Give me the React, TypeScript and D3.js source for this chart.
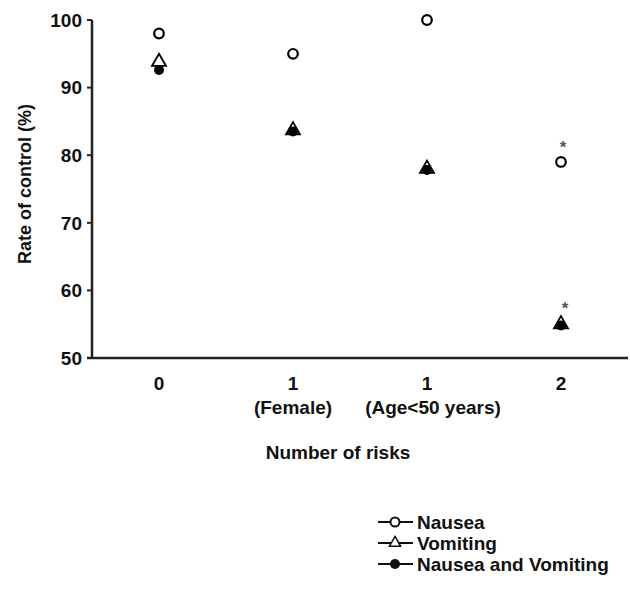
import React from "react";
import * as d3 from "d3";

const categories = ["0", "1", "1", "2"];
const subLabels = ["", "(Female)", "(Age<50 years)", ""];
const nausea = [98, 95, 100, 79];
const vomiting = [93.8, 83.7, 78, 55];
const nauseaVomiting = [92.6, 83.5, 77.8, 54.8];
const significant = [false, false, false, true];
const yTicks = [50, 60, 70, 80, 90, 100];
const legendLabels = ["Nausea", "Vomiting", "Nausea and Vomiting"];

const W = 630;
const H = 594;
const font = "'Liberation Sans', Arial, sans-serif";

export default function App() {
  const x = d3
    .scaleBand<number>()
    .domain(d3.range(categories.length))
    .range([92, 628]);
  const cx = (i: number) => (x(i) as number) + x.bandwidth() / 2;
  const y = d3.scaleLinear().domain([50, 100]).range([358, 20]);
  const x0 = 92;
  const x1 = 628;
  const tri = d3.symbol().type(d3.symbolTriangle).size(85);
  const triSmall = d3.symbol().type(d3.symbolTriangle).size(55);

  return (
    <svg width={W} height={H} style={{ position: "absolute", left: 0, top: 0 }}>
      <rect width={W} height={H} fill="#fff" />
      {/* axes */}
      <line x1={x0} x2={x0} y1={y(100)} y2={y(50)} stroke="#222" strokeWidth={2.5} />
      <line x1={x0 - 5} x2={x1} y1={y(50)} y2={y(50)} stroke="#222" strokeWidth={2.5} />
      {yTicks.map((t) => (
        <g key={t}>
          <line x1={x0 - 5} x2={x0} y1={y(t)} y2={y(t)} stroke="#222" strokeWidth={2} />
          <text x={x0 - 10} y={y(t)} dy="0.36em" textAnchor="end" fontFamily={font} fontWeight="bold" fontSize={19} fill="#111">
            {t}
          </text>
        </g>
      ))}
      <text transform={`translate(25,184) rotate(-90)`} textAnchor="middle" fontFamily={font} fontWeight="bold" fontSize={18} fill="#111" dy="0.36em">
        Rate of control (%)
      </text>
      {categories.map((c, i) => (
        <g key={i}>
          <text x={cx(i)} y={y(50) + 25} dy="0.36em" textAnchor="middle" fontFamily={font} fontWeight="bold" fontSize={19} fill="#111">
            {c}
          </text>
          {subLabels[i] && (
            <text x={cx(i) + (i === 2 ? 6 : 0)} y={y(50) + 49} dy="0.36em" textAnchor="middle" fontFamily={font} fontWeight="bold" fontSize={19} fill="#111">
              {subLabels[i]}
            </text>
          )}
        </g>
      ))}
      <text x={338} y={y(50) + 94} dy="0.36em" textAnchor="middle" fontFamily={font} fontWeight="bold" fontSize={19} fill="#111">
        Number of risks
      </text>
      {/* markers */}
      {vomiting.map((v, i) => (
        <path key={"v" + i} d={tri()!} transform={`translate(${cx(i)},${y(v)})`} fill="#fff" stroke="#000" strokeWidth={1.8} />
      ))}
      {nauseaVomiting.map((v, i) => (
        <circle key={"nv" + i} cx={cx(i)} cy={y(v)} r={5} fill="#000" />
      ))}
      {nausea.map((v, i) => (
        <circle key={"n" + i} cx={cx(i)} cy={y(v)} r={4.8} fill="#fff" stroke="#000" strokeWidth={2.2} />
      ))}
      {significant.map((s, i) =>
        s ? (
          <g key={"s" + i}>
            <text x={cx(i) + 2} y={y(nausea[i]) - 9} textAnchor="middle" fontFamily={font} fontWeight="bold" fontSize={17} fill="#555">*</text>
            <text x={cx(i) + 4} y={y(vomiting[i]) - 10} textAnchor="middle" fontFamily={font} fontWeight="bold" fontSize={17} fill="#555">*</text>
          </g>
        ) : null
      )}
      {/* legend */}
      {legendLabels.map((l, i) => {
        const ly = 522 + i * 21;
        return (
          <g key={l}>
            <line x1={378} x2={413} y1={ly} y2={ly} stroke="#111" strokeWidth={2} />
            {i === 0 && <circle cx={395} cy={ly} r={4.5} fill="#fff" stroke="#111" strokeWidth={2} />}
            {i === 1 && <path d={triSmall()!} transform={`translate(395,${ly})`} fill="#fff" stroke="#111" strokeWidth={1.5} />}
            {i === 2 && <circle cx={395} cy={ly} r={5} fill="#111" />}
            <text x={417} y={ly} dy="0.36em" fontFamily={font} fontWeight="bold" fontSize={19} fill="#111">{l}</text>
          </g>
        );
      })}
    </svg>
  );
}
